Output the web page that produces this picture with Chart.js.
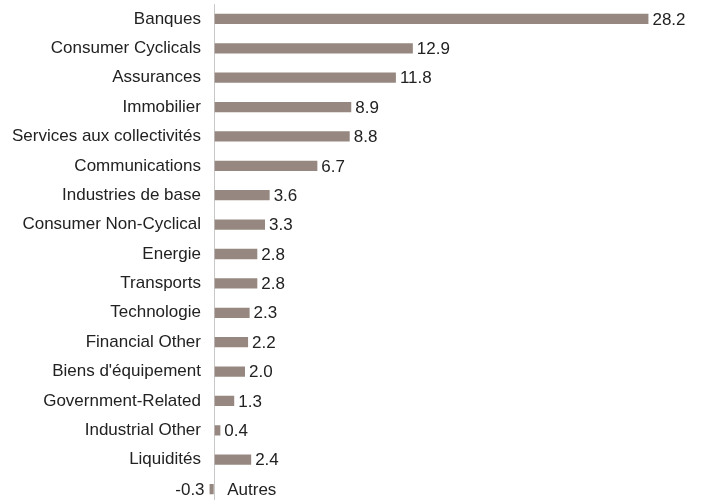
<!DOCTYPE html>
<html>
<head>
<meta charset="utf-8">
<script src="https://cdn.jsdelivr.net/npm/chart.js@4/dist/chart.umd.min.js"></script>
<style>
    html, body { margin: 0; padding: 0; background: #fff; overflow: hidden; }
    #wrap { width: 702px; height: 528px; margin-top: -10px; }
</style>
</head>
<body>
<div id="wrap"><canvas id="chart"></canvas></div>
<script>
const categories = [
    'Banques', 'Consumer Cyclicals', 'Assurances', 'Immobilier',
    'Services aux collectivités', 'Communications', 'Industries de base',
    'Consumer Non-Cyclical', 'Energie', 'Transports', 'Technologie',
    'Financial Other', "Biens d'équipement", 'Government-Related',
    'Industrial Other', 'Liquidités', 'Autres'
];
const weights = [28.2, 12.9, 11.8, 8.9, 8.8, 6.7, 3.6, 3.3, 2.8, 2.8, 2.3, 2.2, 2.0, 1.3, 0.4, 2.4, -0.3];

const FONT = '"Liberation Sans Narrow", "Arial Narrow", sans-serif';
const BAR_COLOR = '#968880';

// value labels at the end of each bar; negative bars get the category on the right side
const barLabels = {
    id: 'barLabels',
    afterDatasetsDraw(chart) {
        const { ctx } = chart;
        const meta = chart.getDatasetMeta(0);
        const zero = chart.scales.x.getPixelForValue(0);
        ctx.save();
        ctx.font = '17px ' + FONT;
        ctx.fillStyle = '#222';
        ctx.textBaseline = 'middle';
        meta.data.forEach((bar, i) => {
            const v = weights[i];
            if (v >= 0) {
                ctx.textAlign = 'left';
                ctx.fillText(v.toFixed(1), bar.x + 4, bar.y + 1);
            } else {
                ctx.textAlign = 'right';
                ctx.fillText(v.toFixed(1), bar.x - 5, bar.y + 1);
                ctx.textAlign = 'left';
                ctx.fillText(categories[i], zero + 13, bar.y + 1);
            }
        });
        ctx.restore();
    }
};

new Chart(document.getElementById('chart').getContext('2d'), {
    type: 'bar',
    data: {
        labels: categories,
        datasets: [{
            data: weights,
            backgroundColor: BAR_COLOR,
            borderWidth: 0,
            categoryPercentage: 1,
            barPercentage: 0.35
        }]
    },
    options: {
        indexAxis: 'y',
        responsive: true,
        maintainAspectRatio: false,
        animation: false,
        layout: { padding: { left: 8, right: 12, top: 0, bottom: 0 } },
        scales: {
            x: {
                min: -0.6,
                max: 30.9,
                afterBuildTicks(scale) { scale.ticks = [{ value: 0 }]; },
                ticks: { display: false, padding: 0 },
                grid: { color: '#c8c8c8', lineWidth: 1, drawTicks: false },
                border: { display: false }
            },
            y: {
                grid: { display: false, drawTicks: false },
                border: { display: false },
                ticks: {
                    color: '#222',
                    padding: 4,
                    font: { family: FONT, size: 17 },
                    callback(value, index) { return weights[index] < 0 ? '' : categories[index]; }
                }
            }
        },
        plugins: {
            legend: { display: false },
            tooltip: { enabled: false }
        }
    },
    plugins: [barLabels]
});
</script>
</body>
</html>
